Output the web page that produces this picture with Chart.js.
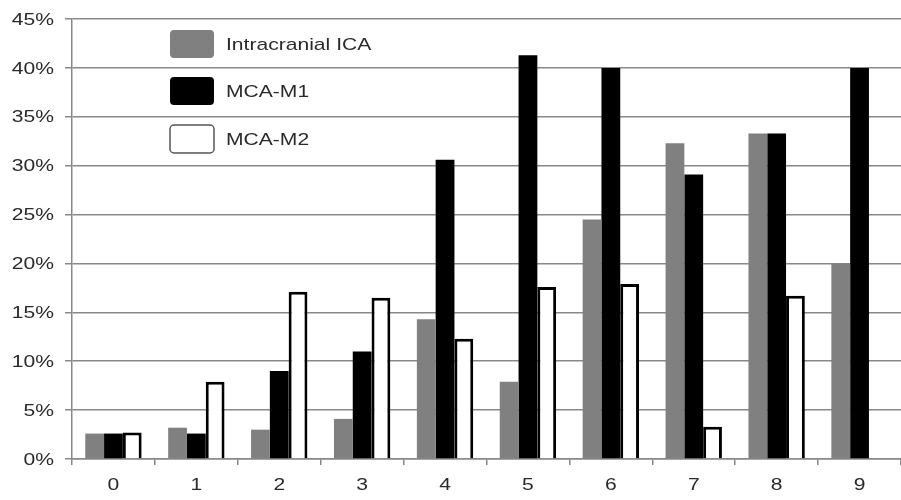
<!DOCTYPE html>
<html>
<head>
<meta charset="utf-8">
<script src="https://cdn.jsdelivr.net/npm/chart.js@4/dist/chart.umd.min.js"></script>
<style>
    html, body { margin: 0; padding: 0; background: #fff; overflow: hidden; }
    #wrap { width: 901px; height: 500px; position: relative; }
</style>
</head>
<body>
<div id="wrap"><canvas id="chart"></canvas></div>
<script>
// Categories and series (percent)
const categories = ['0', '1', '2', '3', '4', '5', '6', '7', '8', '9'];
const icaValues = [2.6, 3.2, 3.0, 4.1, 14.3, 7.9, 24.5, 32.3, 33.3, 20.0];
const m1Values  = [2.6, 2.6, 9.0, 11.0, 30.6, 41.3, 40.0, 29.1, 33.3, 40.0];
const m2Values  = [2.7, 7.9, 17.1, 16.5, 12.3, 17.6, 17.9, 3.3, 16.7, 0];
const seriesNames = ['Intracranial ICA', 'MCA-M1', 'MCA-M2'];

const FONT = "17px 'Liberation Sans', Arial, sans-serif";
const TEXT_COLOR = '#2a2a2a';
const STRETCH = 1.24; // the source text is drawn a bit wide

Chart.defaults.font.family = "'Liberation Sans', Arial, sans-serif";
Chart.defaults.font.size = 17;
Chart.defaults.color = TEXT_COLOR;

function wideText(ctx, text, x, y, align) {
    ctx.save();
    ctx.translate(x, y);
    ctx.scale(STRETCH, 1);
    ctx.font = FONT;
    ctx.fillStyle = TEXT_COLOR;
    ctx.textAlign = align;
    ctx.textBaseline = 'middle';
    ctx.fillText(text, 0, 0);
    ctx.restore();
}

// Tick labels, drawn from the scales' own ticks
const wideTicks = {
    id: 'wideTicks',
    afterDraw(chart) {
        const ctx = chart.ctx;
        const ys = chart.scales.y;
        ys.ticks.forEach((t, i) => {
            wideText(ctx, t.value + '%', ys.left + 54, ys.getPixelForTick(i) + 1, 'right');
        });
        const xs = chart.scales.x;
        xs.ticks.forEach((t, i) => {
            wideText(ctx, chart.data.labels[t.value], xs.getPixelForTick(i), xs.top + 26, 'center');
        });
    }
};

// Legend drawn inside the plot area, top-left
const insideLegend = {
    id: 'insideLegend',
    afterDatasetsDraw(chart) {
        const ctx = chart.ctx;
        const boxX = 170, boxW = 44, boxH = 28;
        const rows = [30, 77, 125];
        ctx.save();
        chart.data.datasets.forEach((ds, i) => {
            const y = rows[i];
            ctx.beginPath();
            ctx.roundRect(boxX, y, boxW, boxH, 4);
            ctx.fillStyle = ds.legendFill;
            ctx.fill();
            if (ds.legendStroke) {
                ctx.lineWidth = 1.5;
                ctx.strokeStyle = ds.legendStroke;
                ctx.stroke();
            }
            wideText(ctx, ds.label, 226, y + boxH / 2 + 1, 'left');
        });
        ctx.restore();
    }
};

new Chart(document.getElementById('chart'), {
    type: 'bar',
    data: {
        labels: categories,
        datasets: [
            {
                label: seriesNames[0],
                data: icaValues,
                backgroundColor: '#808080',
                borderWidth: 0,
                legendFill: '#808080'
            },
            {
                label: seriesNames[1],
                data: m1Values,
                backgroundColor: '#000000',
                borderWidth: 0,
                legendFill: '#000000'
            },
            {
                label: seriesNames[2],
                data: m2Values,
                backgroundColor: '#ffffff',
                borderColor: '#000000',
                borderWidth: 3,
                borderSkipped: 'start',
                legendFill: '#ffffff',
                legendStroke: '#555'
            }
        ]
    },
    options: {
        responsive: true,
        maintainAspectRatio: false,
        animation: false,
        layout: {
            padding: { top: 19, right: 0, left: 0, bottom: 0 }
        },
        datasets: {
            bar: {
                categoryPercentage: 0.68,
                barPercentage: 1.0
            }
        },
        plugins: {
            legend: { display: false },
            tooltip: { enabled: false }
        },
        scales: {
            x: {
                offset: true,
                grid: {
                    offset: true,
                    drawOnChartArea: false,
                    drawTicks: true,
                    tickLength: 6,
                    color: '#888',
                    lineWidth: 1.5
                },
                border: { color: '#888', width: 1.5 },
                ticks: { display: false },
                afterFit(scale) { scale.height = 41; }
            },
            y: {
                min: 0,
                max: 45,
                grid: {
                    color: '#888',
                    lineWidth: 1.5,
                    tickLength: 7
                },
                border: { color: '#888', width: 1.5 },
                ticks: {
                    stepSize: 5,
                    display: false
                },
                afterFit(scale) { scale.width = 72; }
            }
        }
    },
    plugins: [insideLegend, wideTicks]
});
</script>
</body>
</html>
